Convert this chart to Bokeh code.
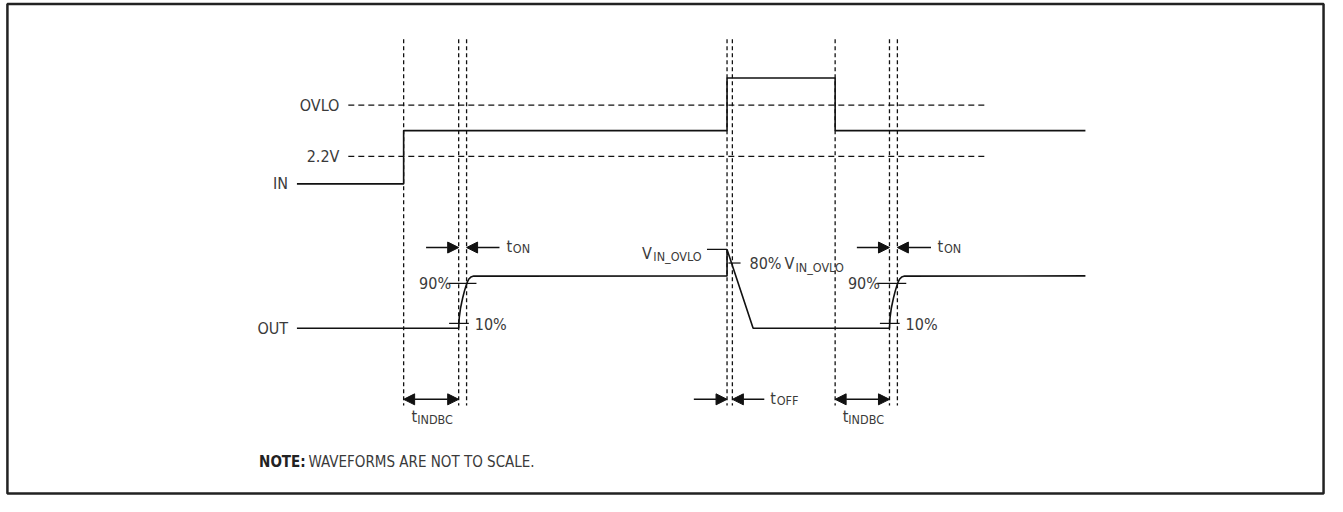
from bokeh.plotting import figure
from bokeh.models import Range1d, ColumnDataSource, Arrow, NormalHead
from bokeh.core.properties import value
from bokeh.embed import file_html
from bokeh.resources import INLINE

# ---------------- timing diagram data (x = time position, y = level; screen-like units) -------------
edge_t = [408, 463.7, 471.7, 735.3, 740.7, 844.7, 899.7, 907.7]   # vertical dashed reference lines
edge_top = [40] * len(edge_t)
edge_bottom = [418] * len(edge_t)

level_names = ["OVLO", "2.2V"]
level_v = [108, 161]
level_t0 = [352, 352]
level_t1 = [996, 996]

in_t = [300, 408, 408, 735.3, 735.3, 844.7, 844.7, 1098]
in_v = [189.3, 189.3, 134.3, 134.3, 80, 80, 134.3, 134.3]

out_t = [300, 463.7, 464.3, 465.5, 466.7, 468, 469.5, 471, 472.5, 474, 476, 479,
         735.3, 735.3, 761.7, 899.7, 900.3, 901.5, 902.7, 904, 905.5, 907, 908.5, 910, 912, 915, 1098]
out_v = [338.3, 338.3, 327, 318, 312, 306, 300, 295, 290.5, 287.5, 285.5, 284.5,
         284.3, 257, 338.3, 338.3, 327, 318, 312, 306, 300, 295, 290.5, 287.5, 285.5, 284.5, 284.3]

tick_t0 = [451.7, 454, 886.7, 890, 715, 736.7]
tick_t1 = [481.7, 474, 916.7, 910, 735.3, 749]
tick_v = [292, 333.3, 292, 333.3, 257, 271]

arrow_t0 = [430.7, 505, 866.7, 941.7, 701.7, 773]
arrow_t1 = [463.7, 471.7, 899.7, 907.7, 735.3, 740.7]
arrow_v = [255, 255, 255, 255, 411.7, 411.7]

darrow_t0 = [408, 844.7]
darrow_t1 = [463.7, 899.7]
darrow_v = [411.7, 411.7]

# labels
r_text = ["OVLO", "2.2V", "IN", "OUT", "90%", "90%"]
r_x = [343, 343, 291, 291, 456, 890]
r_y = [108, 161, 189.3, 338.3, 292, 292]

l_text = ["10%", "10%", "t", "t", "t", "t", "t", "V", "80%", "V"]
l_x = [480, 916, 512, 948.3, 779, 416, 852.3, 649.3, 758, 793.5]
l_y = [334.5, 334.5, 254, 254, 410.5, 429.7, 429.7, 260.8, 271.8, 271.8]

s_text = ["ON", "ON", "OFF", "INDBC", "INDBC", "IN_OVLO", "IN_OVLO"]
s_x = [518.5, 954.8, 785.5, 421.7, 858, 660.7, 804.5]
s_y = [256, 256, 412.5, 432.5, 432.5, 263.8, 275.3]

note_bold = "NOTE:"
note_rest = "WAVEFORMS ARE NOT TO SCALE."

frame_box = dict(left=7, right=1339, top=3.5, bottom=509)

# ---------------------------------------------------------------------------------------------------
FONT = "'Liberation Sans Narrow', 'DejaVu Sans Condensed', 'Roboto', sans-serif"
INK = "#111111"
TXT = "#3a3a3a"

W, H = 1327, 496
p = figure(width=W, height=H, output_backend="svg", toolbar_location=None,
           x_range=Range1d(0, 1343), y_range=Range1d(512, 0),
           min_border=0, min_border_left=0, min_border_right=0,
           min_border_top=0, min_border_bottom=0)
p.xaxis.visible = False
p.yaxis.visible = False
p.grid.visible = False
p.outline_line_color = None
p.background_fill_color = "white"
p.border_fill_color = "white"

# outer frame
p.quad(left=[frame_box["left"]], right=[frame_box["right"]], top=[frame_box["top"]],
       bottom=[frame_box["bottom"]], fill_color=None, line_color="#222222", line_width=2.5)

# dashed reference lines
p.segment(x0=edge_t, y0=edge_top, x1=edge_t, y1=edge_bottom,
          line_color=INK, line_width=1.3, line_dash="4 3")
p.segment(x0=level_t0, y0=level_v, x1=level_t1, y1=level_v,
          line_color=INK, line_width=1.3, line_dash="6 4")

# waveforms
p.line(in_t, in_v, line_color=INK, line_width=1.6)
p.line(out_t, out_v, line_color=INK, line_width=1.6)

# percentage ticks
p.segment(x0=tick_t0, y0=tick_v, x1=tick_t1, y1=tick_v, line_color=INK, line_width=1.2)

# arrows
src_a = ColumnDataSource(dict(x0=arrow_t0, x1=arrow_t1, y=arrow_v))
p.add_layout(Arrow(source=src_a, x_start="x0", y_start="y", x_end="x1", y_end="y",
                   line_color=INK, line_width=1.5,
                   end=NormalHead(size=11, fill_color=INK, line_color=INK, line_width=1)))
src_d = ColumnDataSource(dict(x0=darrow_t0, x1=darrow_t1, y=darrow_v))
p.add_layout(Arrow(source=src_d, x_start="x0", y_start="y", x_end="x1", y_end="y",
                   line_color=INK, line_width=1.5,
                   start=NormalHead(size=11, fill_color=INK, line_color=INK, line_width=1),
                   end=NormalHead(size=11, fill_color=INK, line_color=INK, line_width=1)))

# labels
p.text(x=r_x, y=r_y, text=r_text, text_align="right", text_baseline="middle",
       text_font=value(FONT), text_font_size="16px", text_color=TXT)
p.text(x=l_x, y=l_y, text=l_text, text_align="left", text_baseline="middle",
       text_font=value(FONT), text_font_size="16px", text_color=TXT)
p.text(x=s_x, y=s_y, text=s_text, text_align="left", text_baseline="middle",
       text_font=value(FONT), text_font_size="12.5px", text_color=TXT)

p.text(x=[261.7], y=[476], text=[note_bold], text_align="left", text_baseline="middle",
       text_font=value(FONT), text_font_size="15px", text_font_style="bold", text_color="#222222")
p.text(x=[311.7], y=[476], text=[note_rest], text_align="left", text_baseline="middle",
       text_font=value(FONT), text_font_size="15px", text_color=TXT)

open("out.html", "w").write(file_html(p, INLINE))
